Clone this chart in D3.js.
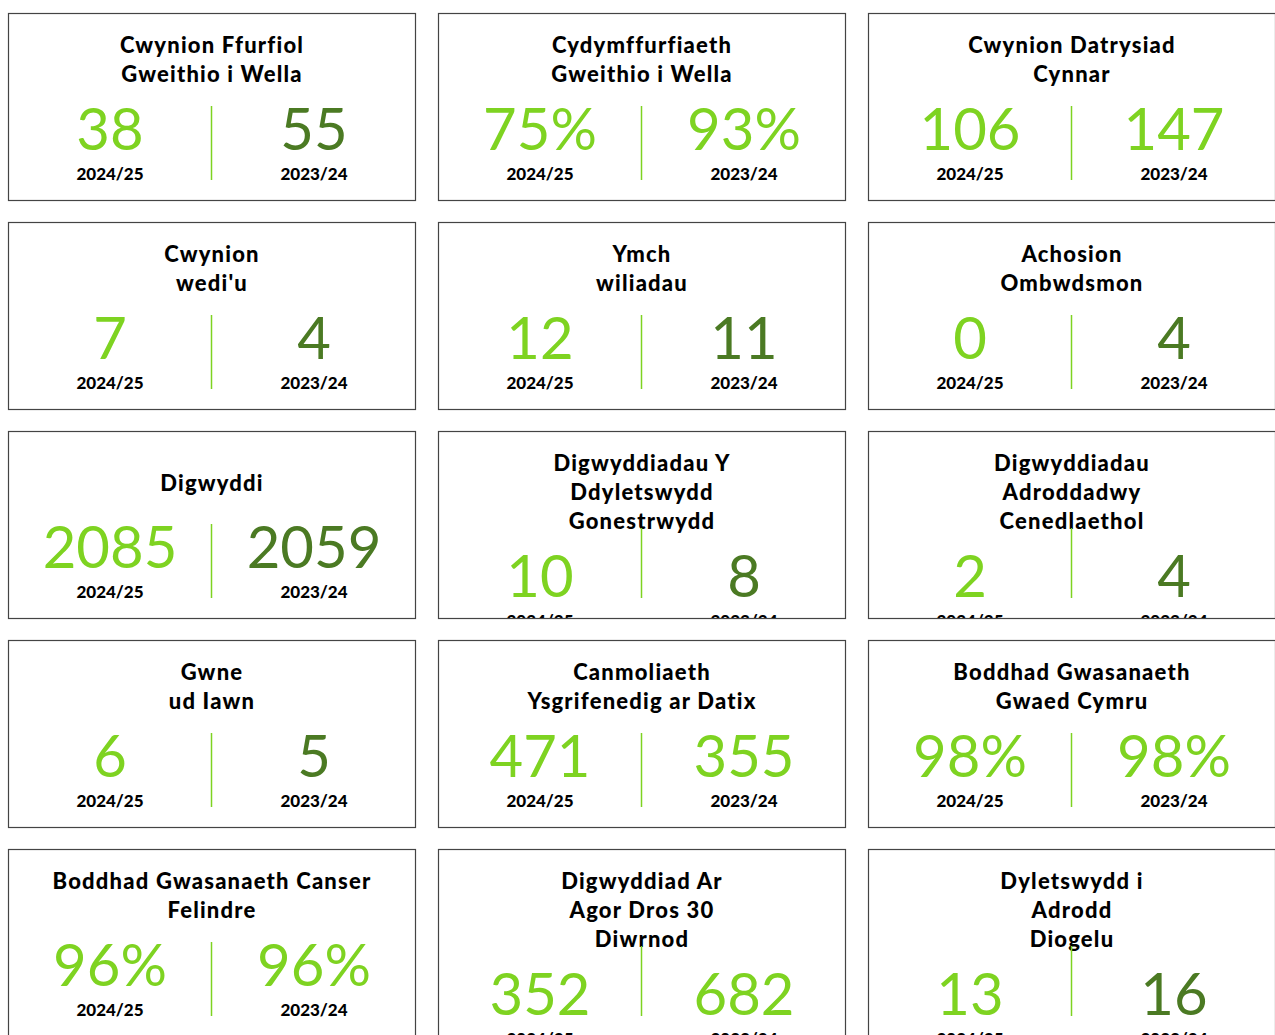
<!DOCTYPE html>
<html>
<head>
<meta charset="utf-8">
<script src="https://cdn.jsdelivr.net/npm/d3@7"></script>
<style>
  body { margin: 0; background: #fff; }
  svg { display: block; }
</style>
</head>
<body>
<div id="chart"></div>
<script>
// Titles of each KPI card (line breaks as in the original)
const titles = [
  ['Cwynion Ffurfiol', 'Gweithio i Wella'],
  ['Cydymffurfiaeth', 'Gweithio i Wella'],
  ['Cwynion Datrysiad', 'Cynnar'],
  ['Cwynion', "wedi'u"],
  ['Ymch', 'wiliadau'],
  ['Achosion', 'Ombwdsmon'],
  ['Digwyddi'],
  ['Digwyddiadau Y', 'Ddyletswydd', 'Gonestrwydd'],
  ['Digwyddiadau', 'Adroddadwy', 'Cenedlaethol'],
  ['Gwne', 'ud Iawn'],
  ['Canmoliaeth', 'Ysgrifenedig ar Datix'],
  ['Boddhad Gwasanaeth', 'Gwaed Cymru'],
  ['Boddhad Gwasanaeth Canser', 'Felindre'],
  ['Digwyddiad Ar', 'Agor Dros 30', 'Diwrnod'],
  ['Dyletswydd i', 'Adrodd', 'Diogelu']
];

// Values for this year and last year
const current = [38, 75, 106, 7, 12, 0, 2085, 10, 2, 6, 471, 98, 96, 352, 13];
const previous = [55, 93, 147, 4, 11, 4, 2059, 8, 4, 5, 355, 98, 96, 682, 16];
const units = ['', '%', '', '', '', '', '', '', '', '', '', '%', '%', '', ''];

// Whether last year's figure is shown in the darker green
const previousDark = [true, false, false, true, true, true, true, true, true, true, false, false, false, false, true];

const yearLabels = ['2024/25', '2023/24'];

const width = 1275;
const height = 1035;
const cols = 3;
const cardW = 408;
const cardH = 188;
const lineH = 29;

const lightGreen = '#7ed321';
const darkGreen = '#4b7a23';

const x = d3.scaleLinear().domain([0, 1]).range([8, 438]);
const y = d3.scaleLinear().domain([0, 1]).range([13, 222]);
// position of the two figures inside a card
const side = d3.scalePoint().domain([0, 1]).range([102, 306]);

const cards = titles.map((t, i) => ({
  title: t,
  cur: current[i] + units[i],
  prev: previous[i] + units[i],
  dark: previousDark[i],
  col: i % cols,
  row: Math.floor(i / cols)
}));

const svg = d3.select('#chart')
  .append('svg')
  .attr('width', width)
  .attr('height', height);

const defs = svg.append('defs');
defs.append('clipPath')
  .attr('id', 'cardClip')
  .append('rect')
  .attr('width', cardW)
  .attr('height', cardH);

const card = svg.selectAll('g.card')
  .data(cards)
  .enter()
  .append('g')
  .attr('class', 'card')
  .attr('transform', d => 'translate(' + x(d.col) + ',' + y(d.row) + ')');

const inner = card.append('g').attr('clip-path', 'url(#cardClip)');

// Title lines, figures and year labels
inner.each(function (d) {
  const g = d3.select(this);
  const n = d.title.length;
  const first = n === 1 ? 60 : 40;
  g.selectAll('text.title')
    .data(d.title)
    .enter()
    .append('text')
    .attr('class', 'title')
    .attr('x', cardW / 2)
    .attr('y', (t, j) => first + j * lineH)
    .attr('text-anchor', 'middle')
    .style('font-family', 'Lato')
    .style('font-weight', 900)
    .style('font-size', '22px')
    .style('letter-spacing', '1.2px')
    .style('fill', '#000')
    .text(t => t);

  const shift = Math.max(0, n - 2) * lineH;

  // divider between the two years
  g.append('line')
    .attr('x1', cardW / 2 - 0.5)
    .attr('x2', cardW / 2 - 0.5)
    .attr('y1', n > 2 ? 97 : 93)
    .attr('y2', 167)
    .style('stroke', lightGreen)
    .style('stroke-width', 1.5);

  const figs = [
    { v: d.cur, c: lightGreen },
    { v: d.prev, c: d.dark ? darkGreen : lightGreen }
  ];

  g.selectAll('text.fig')
    .data(figs)
    .enter()
    .append('text')
    .attr('class', 'fig')
    .attr('x', (f, j) => side(j))
    .attr('y', 137 + shift)
    .attr('text-anchor', 'middle')
    .style('font-family', 'Lato')
    .style('font-weight', 400)
    .style('font-size', '58px')
    .style('fill', f => f.c)
    .text(f => f.v);

  g.selectAll('text.year')
    .data(yearLabels)
    .enter()
    .append('text')
    .attr('class', 'year')
    .attr('x', (f, j) => side(j))
    .attr('y', 167 + shift)
    .attr('text-anchor', 'middle')
    .style('font-family', 'Lato')
    .style('font-weight', 900)
    .style('font-size', '17px')
    .style('fill', '#000')
    .text(f => f);
});

// card border
card.append('rect')
  .attr('x', 0.5)
  .attr('y', 0.5)
  .attr('width', cardW - 1)
  .attr('height', cardH - 1)
  .style('fill', 'none')
  .style('stroke', '#444')
  .style('stroke-width', 1.2);
</script>
</body>
</html>
